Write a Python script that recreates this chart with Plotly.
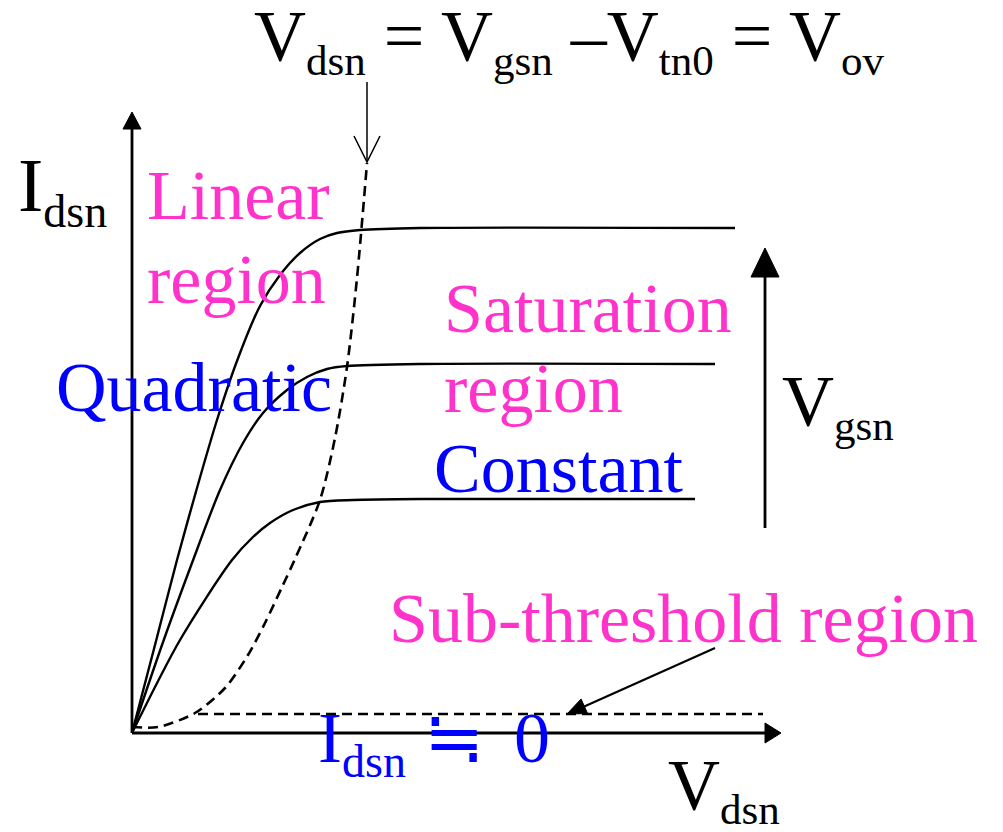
import math
import plotly.graph_objects as go

# ---- data (Vds, Ids in arbitrary units) ----
vds_high = [0, 0.23, 0.45, 0.65, 0.85, 1.05, 1.28, 1.48, 1.68, 1.88, 2.05, 2.28, 2.88, 6.03]
ids_high = [0, 0.88, 1.73, 2.45, 3.13, 3.72, 4.27, 4.58, 4.80, 4.94, 5.00, 5.03, 5.05, 5.05]

vds_mid = [0, 0.30, 0.60, 0.88, 1.11, 1.31, 1.55, 1.75, 1.95, 2.15, 2.88, 5.83]
ids_mid = [0, 0.88, 1.70, 2.43, 2.90, 3.20, 3.43, 3.56, 3.64, 3.67, 3.69, 3.69]

vds_low = [0, 0.48, 1.00, 1.21, 1.38, 1.61, 1.88, 2.21, 2.88, 5.63]
ids_low = [0, 0.93, 1.73, 1.96, 2.10, 2.23, 2.31, 2.33, 2.34, 2.34]

vds_sat = [0, 0.26, 0.63, 0.93, 1.16, 1.33, 1.50, 1.63, 1.88, 2.03, 2.15, 2.25, 2.35]
ids_sat = [0.06, 0.06, 0.20, 0.45, 0.78, 1.10, 1.46, 1.74, 2.33, 2.95, 3.66, 4.55, 5.70]

vds_sub = [0.66, 6.31]
ids_sub = [0.19, 0.19]

x_axis_end = 6.49
y_axis_end = 6.21

PINK = "#FF33CC"
BLUE = "#0000FF"
FONT = "Liberation Serif"

fig = go.Figure()

for vx, iy in [(vds_high, ids_high), (vds_mid, ids_mid), (vds_low, ids_low)]:
    fig.add_trace(go.Scatter(x=vx, y=iy, mode="lines",
                             line=dict(color="black", width=2.4, shape="spline", smoothing=0.8),
                             hoverinfo="skip", showlegend=False))

fig.add_trace(go.Scatter(x=vds_sat, y=ids_sat, mode="lines",
                         line=dict(color="black", width=2.6, dash="10px,6px", shape="spline", smoothing=0.8),
                         hoverinfo="skip", showlegend=False))
fig.add_trace(go.Scatter(x=vds_sub, y=ids_sub, mode="lines",
                         line=dict(color="black", width=2.6, dash="10px,6px"),
                         hoverinfo="skip", showlegend=False))

shapes = []


def line(x0, y0, x1, y1, w=2.0):
    shapes.append(dict(type="line", xref="x", yref="y", x0=x0, y0=y0, x1=x1, y1=y1,
                       line=dict(color="black", width=w)))


def head(tip, frm, length, half, filled=True):
    dx, dy = tip[0] - frm[0], tip[1] - frm[1]
    n = math.hypot(dx, dy)
    ux, uy = dx / n, dy / n
    px, py = -uy, ux
    bx, by = tip[0] - ux * length, tip[1] - uy * length
    a = (bx + px * half, by + py * half)
    b = (bx - px * half, by - py * half)
    if filled:
        path = f"M{a[0]},{a[1]} L{tip[0]},{tip[1]} L{b[0]},{b[1]} Z"
        shapes.append(dict(type="path", xref="x", yref="y", path=path, fillcolor="black",
                           line=dict(color="black", width=1)))
    else:
        path = f"M{a[0]},{a[1]} L{tip[0]},{tip[1]} L{b[0]},{b[1]}"
        shapes.append(dict(type="path", xref="x", yref="y", path=path,
                           line=dict(color="black", width=1.5)))


# axes
line(0, 0, x_axis_end - 0.1, 0, 2.8)
head((x_axis_end, 0), (0, 0), 0.16, 0.10)
line(0, 0, 0, y_axis_end - 0.1, 2.8)
head((0, y_axis_end), (0, 0), 0.17, 0.09)

# Vgsn arrow
line(6.33, 2.05, 6.33, 4.60, 2.8)
head((6.33, 4.85), (6.33, 2.05), 0.29, 0.14)

# sub-threshold pointer
line(5.83, 0.85, 4.50, 0.255, 2.2)
head((4.35, 0.19), (5.83, 0.85), 0.19, 0.08)

# pinch-off pointer (open arrow)
line(2.35, 6.51, 2.35, 5.71, 1.5)
head((2.35, 5.71), (2.35, 6.51), 0.26, 0.13, filled=False)

fig.update_layout(shapes=shapes)

OFF = 8  # page body margin
W, H = 1003 - 2 * OFF, 832 - 2 * OFF


def sub(s, size=43):
    return f"<sub><span style='font-size:{size}px'>{s}</span></sub>"


def txt(s, left_px, baseline_px, color, size, has_sub=False):
    off = 0.265 * size if has_sub else 0.3375 * size
    fig.add_annotation(text=s, xref="paper", yref="paper",
                       x=(left_px - OFF) / W, y=1 - (baseline_px - off - OFF) / H,
                       xanchor="left", yanchor="middle", showarrow=False,
                       font=dict(family=FONT, size=size, color=color))


txt("V" + sub("dsn") + " = V" + sub("gsn") + " –V" + sub("tn0") + " = V" + sub("ov"), 252, 59, "black", 72, True)
txt("I" + sub("dsn", 46), 16, 210, "black", 76, True)
txt("Linear", 145, 219, PINK, 70)
txt("region", 145, 303, PINK, 70)
txt("Quadratic", 54, 411, BLUE, 70)
txt("Saturation", 442, 332, PINK, 70)
txt("region", 442, 412, PINK, 70)
txt("V" + sub("gsn"), 780, 424, "black", 72, True)
txt("Constant", 432, 492, BLUE, 70)
txt("Sub-threshold region", 387, 642, PINK, 70)
txt("I" + sub("dsn", 46) + " ≒\u2006 0", 316, 762, BLUE, 72, True)
txt("V" + sub("dsn"), 666, 808, "black", 72, True)

fig.update_layout(
    width=W, height=H, autosize=False,
    margin=dict(l=0, r=0, t=0, b=0, pad=0),
    paper_bgcolor="white", plot_bgcolor="white",
    xaxis=dict(range=[(OFF - 132) / 100, (1003 - OFF - 132) / 100], visible=False, fixedrange=True),
    yaxis=dict(range=[(733 - (832 - OFF)) / 100, (733 - OFF) / 100], visible=False, fixedrange=True),
    showlegend=False,
)

fig.write_html("out.html")
